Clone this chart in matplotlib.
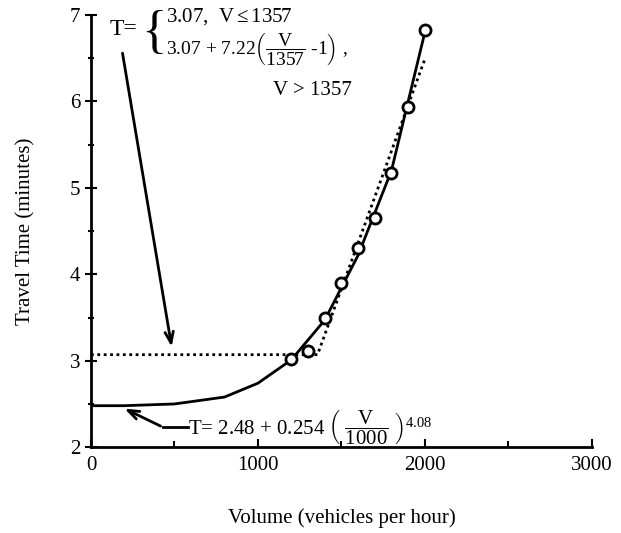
import matplotlib
matplotlib.use('Agg')
import matplotlib.pyplot as plt
from matplotlib.ticker import MultipleLocator

plt.rcParams['font.family'] = ['Liberation Serif', 'DejaVu Serif']
plt.rcParams['mathtext.fontset'] = 'custom'
plt.rcParams['mathtext.rm'] = 'Liberation Serif'
plt.rcParams['mathtext.it'] = 'Liberation Serif:italic'

# observed points
obs_v = [1200, 1300, 1400, 1500, 1600, 1700, 1800, 1900, 2000]
obs_t = [3.02, 3.11, 3.50, 3.90, 4.30, 4.65, 5.17, 5.93, 6.82]

# fitted curve (solid)
fit_v = [0, 200, 500, 800, 1000, 1200, 1400, 1600, 1800, 2000]
fit_t = [2.48, 2.48, 2.50, 2.58, 2.74, 3.01, 3.47, 4.22, 5.20, 6.80]

# piecewise linear (dotted)
pw_v = [0, 1357, 2000]
pw_t = [3.07, 3.07, 6.49]

fig = plt.figure(figsize=(6.21, 5.33), dpi=100)
ax = fig.add_axes([0.1465, 0.161, 0.8065, 0.811])

ax.plot(fit_v, fit_t, color='black', lw=2)
ax.plot(pw_v, pw_t, color='black', lw=2, linestyle=(0, (1, 1.3)))
ax.plot(obs_v, obs_t, 'o', mfc='white', mec='black', mew=2, ms=8)

ax.set_xlim(0, 3000)
ax.set_ylim(2, 7)
ax.spines['top'].set_visible(False)
ax.spines['right'].set_visible(False)
ax.spines['left'].set_linewidth(2)
ax.spines['bottom'].set_linewidth(2)
ax.xaxis.set_major_locator(MultipleLocator(1000))
ax.xaxis.set_minor_locator(MultipleLocator(500))
ax.yaxis.set_major_locator(MultipleLocator(1))
ax.yaxis.set_minor_locator(MultipleLocator(0.5))
ax.tick_params(axis='x', direction='in', length=6, width=1.5, labelsize=15, pad=6)
ax.tick_params(axis='x', which='minor', direction='in', length=4, width=1.5)
ax.tick_params(axis='y', direction='inout', length=8, width=1.5, labelsize=15)
ax.tick_params(axis='y', which='minor', direction='inout', length=5, width=1.5)

ax.set_xlabel('Volume (vehicles per hour)', fontsize=15, labelpad=24)
ax.set_ylabel('Travel Time (minutes)', fontsize=15, labelpad=25)

# piecewise formula
ax.text(114, 6.83, 'T=', fontsize=17, va='center', ha='left')
ax.text(300, 6.78, '{', fontsize=38, va='center', ha='left')
ax.text(450, 6.98, r'3.07,  V$\leq$1357', fontsize=15, va='center', ha='left')
ax.text(450, 6.60, r'3.07 + 7.22$\left(\dfrac{\mathrm{V}}{\mathrm{1357}}\ \mathrm{\text{-}1}\right)$ ,',
        fontsize=14, va='center', ha='left')
ax.text(1092, 6.13, 'V > 1357', fontsize=15, va='center', ha='left')
ax.annotate('', xy=(486, 3.13), xytext=(186, 6.59),
            arrowprops=dict(arrowstyle='->,head_length=0.8,head_width=0.3', lw=2, color='black'))

# power formula
ax.text(582, 2.22, r'T= 2.48 + 0.254 $\left(\ \dfrac{\mathrm{V}}{\mathrm{1000}}\ \right)^{4.08}$',
        fontsize=15, va='center', ha='left')
ax.plot([582, 432], [2.23, 2.23], color='black', lw=2, clip_on=False)
ax.annotate('', xy=(186, 2.46), xytext=(432, 2.23),
            arrowprops=dict(arrowstyle='->,head_length=0.8,head_width=0.3', lw=2, color='black'))

fig.savefig('out.png', dpi=100)
